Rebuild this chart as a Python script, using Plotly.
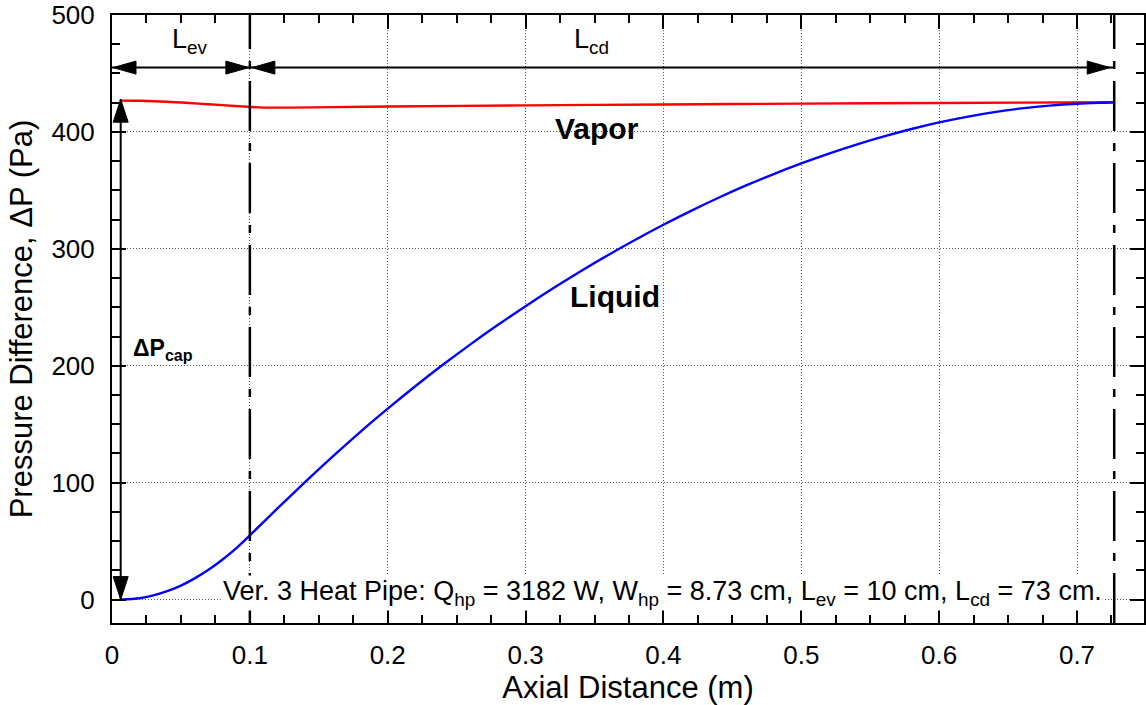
import plotly.graph_objects as go

# ---------------- data ----------------
liquid_x = [0.006, 0.02, 0.03, 0.04, 0.05, 0.06, 0.07, 0.08, 0.09, 0.10,
            0.12, 0.14, 0.16, 0.18, 0.20, 0.22, 0.24, 0.26, 0.28, 0.30,
            0.32, 0.34, 0.36, 0.38, 0.40, 0.42, 0.44, 0.46, 0.48, 0.50,
            0.52, 0.54, 0.56, 0.58, 0.60, 0.62, 0.64, 0.66, 0.68, 0.70,
            0.72, 0.727]
liquid_y = [0.0, 1.2, 3.6, 7.2, 12.0, 18.2, 25.5, 34.1, 43.9, 55.0,
            78.0, 100.5, 122.3, 143.3, 163.3, 182.5, 200.8, 218.3, 235.0, 251.0,
            266.3, 280.9, 294.8, 308.0, 320.6, 332.5, 343.7, 354.2, 364.0, 373.1,
            381.5, 389.2, 396.2, 402.5, 408.1, 412.9, 416.9, 420.1, 422.5, 424.1,
            425.0, 425.3]

vapor_x = [0.006, 0.02, 0.04, 0.06, 0.08, 0.10, 0.11, 0.13, 0.16, 0.20,
           0.30, 0.40, 0.50, 0.60, 0.727]
vapor_y = [426.8, 426.6, 425.8, 424.4, 422.9, 421.4, 420.8, 420.8, 421.2, 421.7,
           422.7, 423.5, 424.2, 424.8, 425.4]

L_ev = 0.10          # evaporator length (m)
L_end = 0.727        # end of condenser (m)
arrow_level = 455    # Pa, level of the length arrows
cap_x = 0.0063       # x of the capillary pressure arrow
cap_top = 428        # Pa
x_ticks = [0, 0.1, 0.2, 0.3, 0.4, 0.5, 0.6, 0.7]
y_ticks = [0, 100, 200, 300, 400, 500]

FONT = "Arial, Liberation Sans, Helvetica, sans-serif"

fig = go.Figure()
fig.add_trace(go.Scatter(x=vapor_x, y=vapor_y, mode="lines",
                         line=dict(color="#ff0000", width=2.4, shape="spline", smoothing=0.8),
                         showlegend=False, hoverinfo="skip"))
fig.add_trace(go.Scatter(x=liquid_x, y=liquid_y, mode="lines",
                         line=dict(color="#0000ff", width=2.4, shape="spline", smoothing=0.8),
                         showlegend=False, hoverinfo="skip"))

shapes = []
# vertical dash-dot lines
for xv in [L_ev, L_end]:
    shapes.append(dict(type="line", xref="x", yref="y", x0=xv, x1=xv, y0=-20, y1=500,
                       line=dict(color="black", width=2.5, dash="50px,12px,8px,12px"), layer="above"))
# horizontal arrow shafts
shapes.append(dict(type="line", xref="x", yref="y", x0=0, x1=L_ev, y0=arrow_level, y1=arrow_level,
                   line=dict(color="black", width=2)))
shapes.append(dict(type="line", xref="x", yref="y", x0=L_ev, x1=L_end, y0=arrow_level, y1=arrow_level,
                   line=dict(color="black", width=2)))
# vertical cap arrow shaft
shapes.append(dict(type="line", xref="x", yref="y", x0=cap_x, x1=cap_x, y0=0, y1=cap_top,
                   line=dict(color="black", width=2)))


def head(xa, ya, path):
    return dict(type="path", xref="x", yref="y", xsizemode="pixel", ysizemode="pixel",
                xanchor=xa, yanchor=ya, path=path, fillcolor="black",
                line=dict(color="black", width=1))


# arrow heads (pixel geometry relative to tip)
shapes.append(head(0, arrow_level, "M1,0 L24,6.5 L24,-6.5 Z"))
shapes.append(head(L_ev, arrow_level, "M-1,0 L-24,6.5 L-24,-6.5 Z"))
shapes.append(head(L_ev, arrow_level, "M2,0 L25,6.5 L25,-6.5 Z"))
shapes.append(head(L_end, arrow_level, "M-4,0 L-27,6.5 L-27,-6.5 Z"))
shapes.append(head(cap_x, cap_top, "M0,0 L-7.5,-23 L7.5,-23 Z"))
shapes.append(head(cap_x, 0, "M0,0 L-7.5,23 L7.5,23 Z"))

annotations = [
    dict(x=0.0564, y=478, xref="x", yref="y", text="L<sub>ev</sub>", showarrow=False,
         font=dict(family=FONT, size=27, color="black")),
    dict(x=0.348, y=478, xref="x", yref="y", text="L<sub>cd</sub>", showarrow=False,
         font=dict(family=FONT, size=27, color="black")),
    dict(x=0.3517, y=403, xref="x", yref="y", text="<b>Vapor</b>", showarrow=False,
         font=dict(family=FONT, size=30, color="black")),
    dict(x=0.3647, y=259, xref="x", yref="y", text="<b>Liquid</b>", showarrow=False,
         font=dict(family=FONT, size=30, color="black")),
    dict(x=0.0140, y=214, xref="x", yref="y", xanchor="left", text="<b>ΔP<sub>cap</sub></b>",
         showarrow=False, font=dict(family=FONT, size=23, color="black")),
    dict(x=0.719, y=6, xref="x", yref="y", xanchor="right", yanchor="middle",
         text="Ver. 3 Heat Pipe: Q<sub>hp</sub> = 3182 W, W<sub>hp</sub> = 8.73 cm, "
              "L<sub>ev</sub> = 10 cm, L<sub>cd</sub> = 73 cm.",
         showarrow=False, bgcolor="white", borderpad=0,
         font=dict(family=FONT, size=27, color="black")),
]

axis_common = dict(showline=True, linecolor="black", linewidth=2, mirror="ticks",
                   ticks="inside", ticklen=14, tickwidth=1.5, tickcolor="black",
                   showgrid=True, gridcolor="#555555", gridwidth=1, griddash="1px,2px",
                   zeroline=False, tickfont=dict(family=FONT, size=26, color="black"),
                   minor=dict(ticks="inside", ticklen=8, tickwidth=1.5, tickcolor="black", showgrid=False))

fig.update_layout(
    width=1146, height=705,
    margin=dict(l=112, r=0, t=15, b=82),
    paper_bgcolor="white", plot_bgcolor="white",
    shapes=shapes, annotations=annotations,
    xaxis=dict(range=[0, 0.7486], tickvals=x_ticks, ticktext=[str(v) for v in x_ticks],
               title=dict(text="Axial Distance (m)", font=dict(family=FONT, size=31, color="black"), standoff=6),
               ticklabelstandoff=8, **{**axis_common, "minor": dict(axis_common["minor"], dtick=0.025, tick0=0)}),
    yaxis=dict(range=[-20, 500], tickvals=y_ticks,
               title=dict(text="Pressure Difference, ΔP (Pa)", font=dict(family=FONT, size=31, color="black"), standoff=10),
               ticklabelstandoff=10, **{**axis_common, "minor": dict(axis_common["minor"], dtick=25, tick0=0)}),
)

fig.write_html("out.html")
